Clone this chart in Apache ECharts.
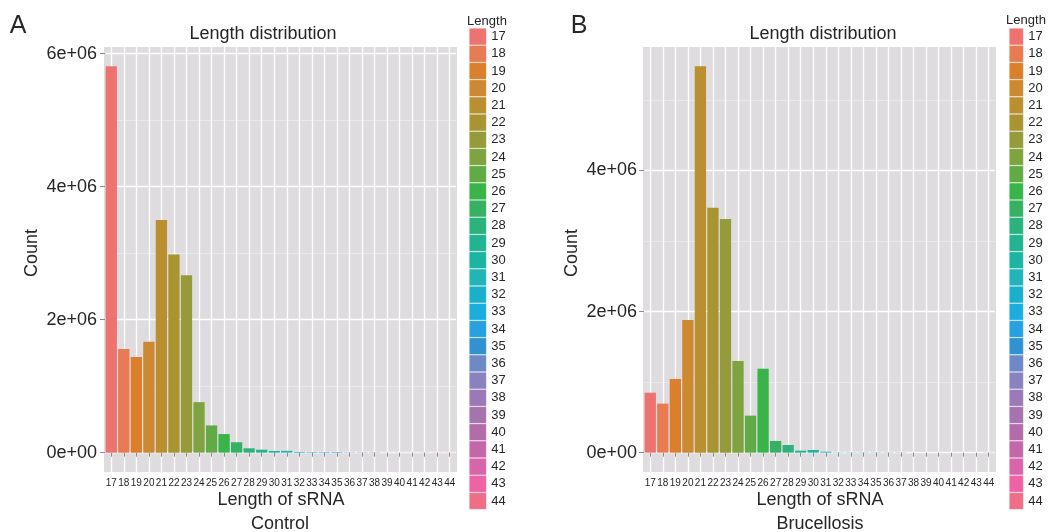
<!DOCTYPE html>
<html>
<head>
<meta charset="utf-8">
<script src="https://cdn.jsdelivr.net/npm/echarts@6/dist/echarts.min.js"></script>
<style>
html,body{margin:0;padding:0;background:#fff;}
#c{width:1048px;height:532px;}
</style>
</head>
<body>
<div id="c"></div>
<script>
// ---- data ----
const lengths = ['17','18','19','20','21','22','23','24','25','26','27','28','29','30','31','32','33','34','35','36','37','38','39','40','41','42','43','44'];
const controlCounts = [5810000,1560000,1440000,1670000,3500000,2980000,2670000,760000,410000,280000,157000,66000,45000,26000,28000,11000,8000,8000,8000,5000,5000,5000,2000,2000,2000,3000,3000,3000];
const brucellosisCounts = [850000,695000,1045000,1880000,5475000,3470000,3310000,1300000,525000,1190000,166000,109000,28000,38000,14000,4000,4000,4000,4000,4000,4000,1000,1000,1000,1000,1000,1000,3000];
const majorTicksA = [0, 2000000, 4000000, 6000000];
const majorTicksB = [0, 2000000, 4000000];
const minorTicksA = [1000000, 3000000, 5000000];
const minorTicksB = [1000000, 3000000, 5000000];
const panelTitles = ['Length distribution', 'Length distribution'];
const groupNames = ['Control', 'Brucellosis'];

// ---- style ----
const palette = ['#EE7270','#E77B52','#DC7F2C','#CD8832','#BA8F30','#A99432','#959B3A','#7EA33F','#60AB45','#38B449','#36B163','#2CB27C','#22B491','#1BB5A2','#22B4B6','#1AAFCB','#1CADDF','#28A1E0','#3092D2','#6F88C6','#8982BE','#9A79B6','#A573AE','#B36CAA','#C467AA','#D864A9','#EF62A4','#EE6E88'];
const FONT = '"Liberation Sans", Arial, sans-serif';
const TXT = '#262626';

function sci(v){
  if (v === 0) return '0e+00';
  return (v/1e6) + 'e+06';
}
function expanded(vals){
  const mx = Math.max(...vals);
  const pad = mx * 0.05;
  return [-pad, mx + pad];
}

const panels = [
  {vals: controlCounts, major: majorTicksA, minor: minorTicksA, gridLeft: 105, bgLeft: 104, bgRight: 457, labelMargin: 8},
  {vals: brucellosisCounts, major: majorTicksB, minor: minorTicksB, gridLeft: 644, bgLeft: 643, bgRight: 996, labelMargin: 7}
];
const TOP = 47, BOTTOM = 472;

const grids = [], xAxes = [], yAxes = [], series = [];
panels.forEach((p, pi) => {
  const ext = expanded(p.vals);
  grids.push({left: p.gridLeft, top: TOP, width: 351, height: BOTTOM - TOP, containLabel: false});
  xAxes.push({
    type: 'category', gridIndex: pi, data: lengths,
    axisLine: {show: false},
    axisTick: {show: true, alignWithLabel: true, length: 4, interval: 0, lineStyle: {color: '#8a8a8a', width: 1}},
    axisLabel: {interval: 0, fontSize: 10, color: TXT, margin: 6, fontFamily: FONT},
    splitLine: {show: true, interval: 0, alignWithLabel: true, lineStyle: {color: '#ffffff', width: 1.3}}
  });
  yAxes.push({
    type: 'value', gridIndex: pi, min: ext[0], max: ext[1],
    axisLine: {show: false},
    axisTick: {show: true, length: 5, customValues: p.major, lineStyle: {color: '#8a8a8a'}},
    axisLabel: {customValues: p.major, formatter: sci, fontSize: 18, color: TXT, margin: p.labelMargin, fontFamily: FONT},
    splitLine: {show: true, lineStyle: {color: '#ffffff', width: 1.3}}
  });
  yAxes.push({
    type: 'value', gridIndex: pi, min: ext[0], max: ext[1], position: 'right',
    axisLine: {show: false},
    axisTick: {show: false, customValues: p.minor},
    axisLabel: {show: false, customValues: p.minor},
    splitLine: {show: true, lineStyle: {color: '#ecebec', width: 0.8}}
  });
  lengths.forEach((name, i) => {
    series.push({
      type: 'bar', name: name, xAxisIndex: pi, yAxisIndex: pi * 2,
      stack: 'p' + pi, barCategoryGap: '10%',
      data: p.vals.map((v, j) => (j === i ? v : '-')),
      itemStyle: {color: palette[i]},
      emphasis: {disabled: true},
      animation: false
    });
  });
});

function txt(text, x, y, size, opts){
  return Object.assign({
    type: 'text', x: x, y: y, z: 10,
    style: {text: text, fill: TXT, font: size + 'px ' + FONT, textAlign: 'center', textVerticalAlign: 'middle'}
  }, opts || {});
}

const graphics = [
  {type: 'rect', z: -10, shape: {x: 104, y: TOP, width: 353, height: BOTTOM - TOP}, style: {fill: '#dedcde'}},
  {type: 'rect', z: -10, shape: {x: 643, y: TOP, width: 353, height: BOTTOM - TOP}, style: {fill: '#dedcde'}},
  txt('A', 18, 26, 25),
  txt('B', 579, 26, 25),
  txt(panelTitles[0], 263, 34, 18),
  txt(panelTitles[1], 823, 34, 18),
  txt('Count', 32, 253, 18, {rotation: Math.PI / 2}),
  txt('Count', 572, 253, 18, {rotation: Math.PI / 2}),
  txt('Length of sRNA', 281, 500, 18),
  txt('Length of sRNA', 820, 500, 18),
  txt(groupNames[0], 280, 524, 18),
  txt(groupNames[1], 820, 524, 18),
  txt('Length', 487, 21, 13),
  txt('Length', 1026, 20, 13)
];

const legendBase = {
  data: lengths, orient: 'vertical', top: 28, padding: 0,
  itemHeight: 16.6, itemGap: 0, icon: 'rect', selectedMode: false,
  textStyle: {fontSize: 13, color: TXT, fontFamily: FONT},
  itemStyle: {borderColor: 'rgba(255,255,255,0.45)', borderWidth: 0.6}
};

const chart = echarts.init(document.getElementById('c'), null, {renderer: 'canvas'});
chart.setOption({
  animation: false,
  backgroundColor: '#ffffff',
  textStyle: {fontFamily: FONT},
  grid: grids,
  xAxis: xAxes,
  yAxis: yAxes,
  legend: [
    Object.assign({}, legendBase, {left: 469, itemWidth: 17}),
    Object.assign({}, legendBase, {left: 1009, itemWidth: 14})
  ],
  graphic: graphics,
  series: series
});
</script>
</body>
</html>
